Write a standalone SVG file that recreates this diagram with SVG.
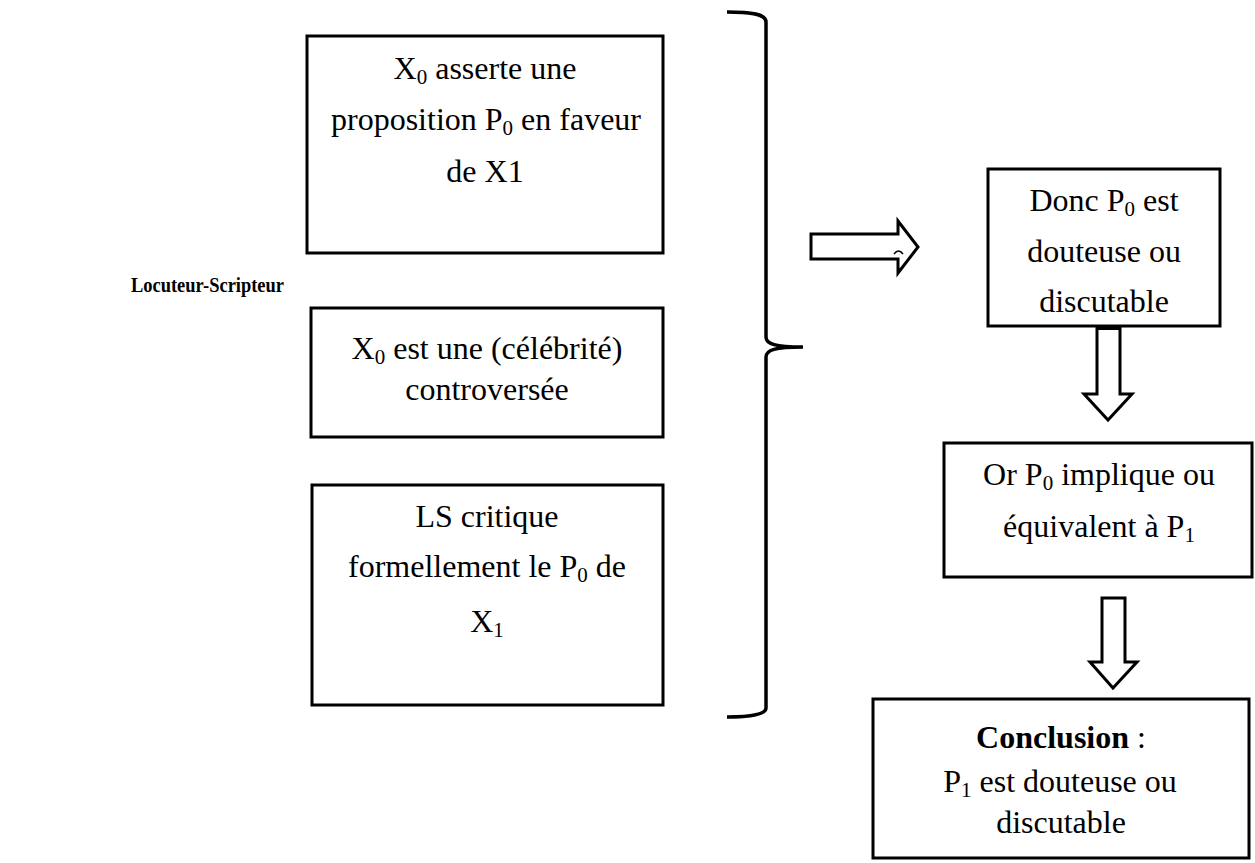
<svg xmlns="http://www.w3.org/2000/svg" width="1255" height="863" viewBox="0 0 1255 863">
<style>
.box{fill:#fff;stroke:#000;stroke-width:3}
.t{font-family:"Liberation Serif","Times New Roman",serif;font-size:32px;fill:#000;text-anchor:middle}
.b{font-weight:bold}
.sub{font-size:21px}
.arr{fill:#fff;stroke:#000;stroke-width:3;stroke-linejoin:miter}
.br{fill:none;stroke:#000;stroke-width:3.5}
</style>
<rect width="1255" height="863" fill="#fff"/>
<g id="label-ls">
<text x="131" y="292" class="t b" style="text-anchor:start;font-size:22px" textLength="153" lengthAdjust="spacingAndGlyphs">Locuteur-Scripteur</text>
</g>
<g id="box1">
<rect class="box" x="307" y="36" width="356" height="217"/>
<text class="t" x="485" y="79">X<tspan class="sub" dy="5">0</tspan><tspan dy="-5"> asserte une</tspan></text>
<text class="t" x="486" y="130">proposition P<tspan class="sub" dy="5">0</tspan><tspan dy="-5"> en faveur</tspan></text>
<text class="t" x="485" y="182">de X1</text>
</g>
<g id="box2">
<rect class="box" x="311" y="308" width="352" height="129"/>
<text class="t" x="487" y="359">X<tspan class="sub" dy="5">0</tspan><tspan dy="-5"> est une (célébrité)</tspan></text>
<text class="t" x="487" y="400">controversée</text>
</g>
<g id="box3">
<rect class="box" x="312" y="485" width="351" height="220"/>
<text class="t" x="487" y="527">LS critique</text>
<text class="t" x="487" y="577">formellement le P<tspan class="sub" dy="5">0</tspan><tspan dy="-5"> de</tspan></text>
<text class="t" x="487" y="632">X<tspan class="sub" dy="5">1</tspan></text>
</g>
<g id="box-donc">
<rect class="box" x="988" y="169" width="232" height="157"/>
<text class="t" x="1104" y="211">Donc P<tspan class="sub" dy="5">0</tspan><tspan dy="-5"> est</tspan></text>
<text class="t" x="1104" y="262">douteuse ou</text>
<text class="t" x="1104" y="312">discutable</text>
</g>
<g id="box-or">
<rect class="box" x="944" y="443" width="308" height="134"/>
<text class="t" x="1099" y="485">Or P<tspan class="sub" dy="5">0</tspan><tspan dy="-5"> implique ou</tspan></text>
<text class="t" x="1099" y="537">équivalent à P<tspan class="sub" dy="5">1</tspan></text>
</g>
<g id="box-conclusion">
<rect class="box" x="873" y="699" width="376" height="159"/>
<text class="t" x="1061" y="748"><tspan class="b">Conclusion</tspan> :</text>
<text class="t" x="1060" y="792">P<tspan class="sub" dy="5">1</tspan><tspan dy="-5"> est douteuse ou</tspan></text>
<text class="t" x="1061" y="833">discutable</text>
</g>
<g id="connectors">
<path class="br" d="M727,12 C752,12 766,14 766,22 V337 C766,344 775,347 803,347 C775,347 766,350 766,357 V708 C766,714 752,717 727,717"/>
<path class="arr" d="M811,234 H898 V221 L918,247 L898,273 V259 H811 Z"/>
<path d="M894,254 Q898.5,248 903,254" fill="none" stroke="#000" stroke-width="1.5"/>
<path class="arr" d="M1097,327 H1120 V394 H1132 L1108,420 L1084,394 H1097 Z"/>
<rect x="1097" y="326" width="23" height="4" fill="#000"/>
<path class="arr" d="M1102,598 H1125 V662 H1137 L1113,688 L1090,662 H1102 Z"/>
</g>
</svg>
